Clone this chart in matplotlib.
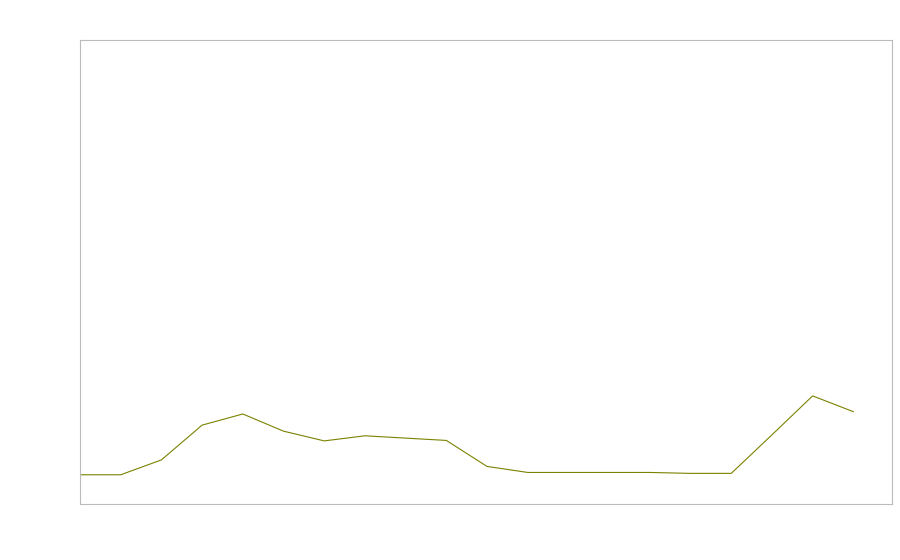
import matplotlib
matplotlib.use("Agg")
import matplotlib.pyplot as plt

# values (no labels are shown; scale 0..100)
steps = list(range(20))
values = [6.3, 6.3, 9.5, 17.0, 19.4, 15.7, 13.6, 14.7, 14.2, 13.7,
          8.1, 6.8, 6.8, 6.8, 6.8, 6.6, 6.6, 14.9, 23.3, 19.9]


def main():
    fig = plt.figure(figsize=(9, 5.6), dpi=100)
    ax = fig.add_axes([80 / 900, 56 / 560, 812 / 900, 464 / 560])

    ax.plot(steps, values, color="#7b8200", linewidth=0.8)
    ax.set_xlim(0, 19.95)
    ax.set_ylim(0, 100)

    ax.set_xticks([])
    ax.set_yticks([])
    for spine in ax.spines.values():
        spine.set_color("#bbbbbb")
        spine.set_linewidth(0.8)

    return fig, ax


if __name__ == "__main__":
    fig, _ = main()
    fig.savefig("out.png", dpi=100, facecolor="white")
